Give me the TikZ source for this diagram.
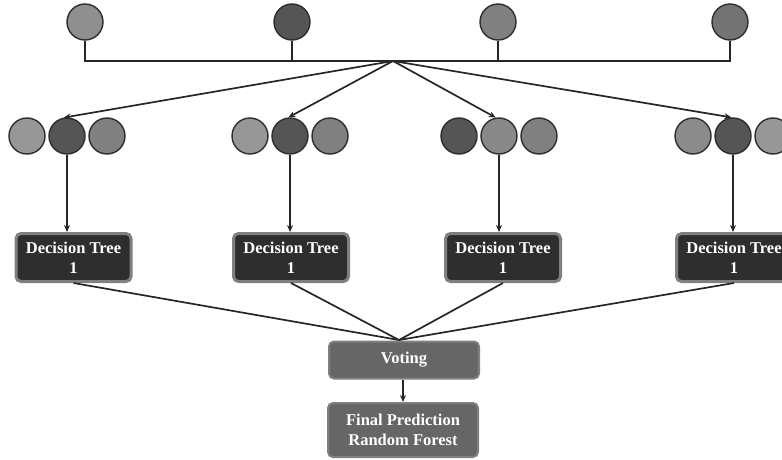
\documentclass[tikz,border=0pt]{standalone}
\usepackage{fontspec}
\setmainfont{Liberation Serif}
\usetikzlibrary{arrows.meta}
\definecolor{cl}{HTML}{979797}
\definecolor{cd}{HTML}{555555}
\definecolor{cm}{HTML}{808080}
\definecolor{ce}{HTML}{737373}
\definecolor{bord}{HTML}{2E2E2E}
\begin{document}
\begin{tikzpicture}[x=1pt,y=-1pt,
  ball/.style={circle,draw=bord,line width=1.4pt,minimum size=36pt,inner sep=0pt},
  tree/.style={rectangle,rounded corners=5pt,draw=cm,line width=3pt,fill=black!82,
    minimum width=115pt,minimum height=48pt,text=white,font=\bfseries\fontsize{16.5}{20}\selectfont,align=center,inner sep=0pt},
  gbox/.style={rectangle,rounded corners=5pt,draw=cm,line width=2pt,fill=black!60,
    minimum width=150pt,text=white,font=\bfseries\fontsize{16.5}{20}\selectfont,align=center,inner sep=0pt},
  conn/.style={line width=1.7pt,draw=black!85},
  arr/.style={conn,-{Stealth[length=7pt,width=6pt]}}]
\useasboundingbox (0,0) rectangle (782,460);
% top row
\node[ball,fill=cl!95!black] (t1) at (85,22) {};
\node[ball,fill=cd] (t2) at (292,22) {};
\node[ball,fill=cm] (t3) at (498,22) {};
\node[ball,fill=ce] (t4) at (730,22) {};
\coordinate (hub) at (393,61);
\coordinate (bl) at (85,61);
\coordinate (br) at (730,61);
\draw[conn] (t1) -- (bl) -- (br) -- (t4);
\draw[conn] (t2) -- (t2 |- hub);
\draw[conn] (t3) -- (t3 |- hub);
% second row
\node[ball,fill=cl] (a1) at (27,136) {};
\node[ball,fill=cd] (a2) at (67,136) {};
\node[ball,fill=cm] (a3) at (107,136) {};
\node[ball,fill=cl] (b1) at (250,136) {};
\node[ball,fill=cd] (b2) at (290,136) {};
\node[ball,fill=cm] (b3) at (330,136) {};
\node[ball,fill=cd] (c1) at (459,136) {};
\node[ball,fill=cl!90!black] (c2) at (499,136) {};
\node[ball,fill=cm] (c3) at (539,136) {};
\node[ball,fill=cl!92!black] (d1) at (693,136) {};
\node[ball,fill=cd] (d2) at (733,136) {};
\node[ball,fill=cl] (d3) at (773,136) {};
\draw[arr] (hub) -- (a2.100);
\draw[arr] (hub) -- (b2.95);
\draw[arr] (hub) -- (c2.100);
\draw[arr] (hub) -- (d2.95);
% trees
\node[tree] (k1) at (73.5,257.5) {Decision Tree\\1};
\node[tree] (k2) at (291,257.5) {Decision Tree\\1};
\node[tree] (k3) at (503,257.5) {Decision Tree\\1};
\node[tree] (k4) at (734,257.5) {Decision Tree\\1};
\draw[arr] (a2) -- (a2 |- k1.north);
\draw[arr] (b2) -- (b2 |- k2.north);
\draw[arr] (c2) -- (c2 |- k3.north);
\draw[arr] (d2) -- (d2 |- k4.north);
% voting
\node[gbox,minimum height=37pt] (v) at (404,360) {Voting};
\node[gbox,minimum height=54pt] (f) at (403,430) {Final Prediction\\Random Forest};
\coordinate (vt) at (399,340);
\draw[conn] (k1.south) -- (vt);
\draw[conn] (k2.south) -- (vt);
\draw[conn] (k3.south) -- (vt);
\draw[conn] (k4.south) -- (vt);
\draw[arr] (v.south -| f.north) -- (f.north);
\end{tikzpicture}
\end{document}
